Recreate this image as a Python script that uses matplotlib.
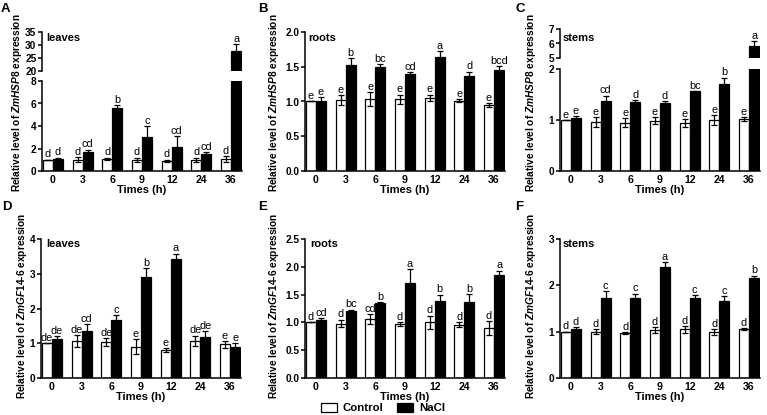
import matplotlib
matplotlib.use('Agg')
import matplotlib.pyplot as plt
import numpy as np

plt.rcParams['font.family'] = ['Liberation Sans', 'DejaVu Sans']
plt.rcParams['font.weight'] = 'bold'
plt.rcParams['mathtext.fontset'] = 'custom'
plt.rcParams['mathtext.it'] = 'Liberation Sans:italic:bold'
plt.rcParams['mathtext.rm'] = 'Liberation Sans:bold'

####################Data############################
times = ['0', '3', '6', '9', '12', '24', '36']

# A: ZmHSP8 leaves
a_ctrl = [1.0, 1.02, 1.1, 1.0, 0.9, 1.0, 1.05]
a_ctrl_err = [0.0, 0.2, 0.1, 0.2, 0.1, 0.2, 0.25]
a_nacl = [1.1, 1.7, 5.6, 3.05, 2.15, 1.55, 27.8]
a_nacl_err = [0.1, 0.2, 0.25, 0.95, 0.95, 0.1, 2.6]
a_ctrl_let = ['d', 'd', 'd', 'd', 'd', 'd', 'd']
a_nacl_let = ['d', 'cd', 'b', 'c', 'cd', 'cd', 'a']

# B: ZmHSP8 roots
b_ctrl = [1.0, 1.02, 1.03, 1.03, 1.05, 1.01, 0.95]
b_ctrl_err = [0.0, 0.07, 0.1, 0.07, 0.05, 0.02, 0.03]
b_nacl = [1.0, 1.53, 1.49, 1.40, 1.64, 1.37, 1.45]
b_nacl_err = [0.06, 0.09, 0.05, 0.02, 0.08, 0.06, 0.06]
b_ctrl_let = ['e', 'e', 'e', 'e', 'e', 'e', 'e']
b_nacl_let = ['e', 'b', 'bc', 'cd', 'a', 'd', 'bcd']

# C: ZmHSP8 stems
c_ctrl = [1.0, 0.96, 0.95, 0.99, 0.94, 1.0, 1.02]
c_ctrl_err = [0.0, 0.1, 0.08, 0.07, 0.08, 0.1, 0.03]
c_nacl = [1.03, 1.38, 1.35, 1.33, 1.56, 1.71, 5.85]
c_nacl_err = [0.05, 0.1, 0.04, 0.04, 0.01, 0.12, 0.3]
c_ctrl_let = ['e', 'e', 'e', 'e', 'e', 'e', 'e']
c_nacl_let = ['e', 'cd', 'd', 'd', 'bc', 'b', 'a']

# D: ZmGF14-6 leaves
d_ctrl = [1.0, 1.07, 1.03, 0.9, 0.8, 1.07, 0.97]
d_ctrl_err = [0.0, 0.17, 0.12, 0.22, 0.06, 0.15, 0.1]
d_nacl = [1.12, 1.36, 1.68, 2.9, 3.43, 1.18, 0.88]
d_nacl_err = [0.09, 0.18, 0.12, 0.26, 0.15, 0.17, 0.12]
d_ctrl_let = ['de', 'de', 'de', 'e', 'e', 'de', 'e']
d_nacl_let = ['de', 'cd', 'c', 'b', 'a', 'de', 'e']

# E: ZmGF14-6 roots
e_ctrl = [1.0, 0.98, 1.06, 0.97, 1.0, 0.96, 0.9]
e_ctrl_err = [0.0, 0.07, 0.09, 0.04, 0.12, 0.04, 0.12]
e_nacl = [1.04, 1.2, 1.34, 1.71, 1.38, 1.36, 1.86]
e_nacl_err = [0.04, 0.03, 0.02, 0.25, 0.12, 0.15, 0.07]
e_ctrl_let = ['d', 'd', 'cd', 'd', 'd', 'd', 'd']
e_nacl_let = ['cd', 'bc', 'b', 'a', 'b', 'b', 'a']

# F: ZmGF14-6 stems
f_ctrl = [1.0, 1.0, 0.97, 1.04, 1.05, 0.99, 1.06]
f_ctrl_err = [0.0, 0.05, 0.02, 0.06, 0.07, 0.06, 0.02]
f_nacl = [1.05, 1.72, 1.73, 2.4, 1.73, 1.67, 2.15]
f_nacl_err = [0.04, 0.15, 0.09, 0.1, 0.06, 0.1, 0.06]
f_ctrl_let = ['d', 'd', 'd', 'd', 'd', 'd', 'd']
f_nacl_let = ['d', 'c', 'c', 'a', 'c', 'c', 'b']

##########################Plotting###########################
W, H = 767, 415
fig = plt.figure(figsize=(W/100, H/100), dpi=100)

w = 0.34
x = np.arange(len(times))
let_size = 7.8
tick_size = 7.3
lab_size = 7.3


def px(left, top, right, bottom):
    # pixel box -> figure fraction
    return [left/W, 1-bottom/H, (right-left)/W, (bottom-top)/H]


def draw(ax, ctrl, ctrl_err, nacl, nacl_err, ctrl_let, nacl_let):
    ekw = dict(ecolor='black', elinewidth=0.9, capsize=2.4, capthick=0.9)
    ax.bar(x - w/2, ctrl, w, color='white', edgecolor='black', linewidth=0.9,
           yerr=ctrl_err, error_kw=ekw, label='Control')
    ax.bar(x + w/2, nacl, w, color='black', edgecolor='black', linewidth=0.9,
           yerr=nacl_err, error_kw=ekw, label='NaCl')
    for xi, v, e, t in zip(x - w/2, ctrl, ctrl_err, ctrl_let):
        ax.annotate(t, (xi, v+e), xytext=(0, 0.2), textcoords='offset points',
                    ha='center', va='bottom', fontsize=let_size, fontweight='normal')
    for xi, v, e, t in zip(x + w/2, nacl, nacl_err, nacl_let):
        ax.annotate(t, (xi, v+e), xytext=(0, 0.2), textcoords='offset points',
                    ha='center', va='bottom', fontsize=let_size, fontweight='normal')
    ax.set_xlim(-0.37, 6.37)
    for s in ['top', 'right']:
        ax.spines[s].set_visible(False)
    for s in ['left', 'bottom']:
        ax.spines[s].set_linewidth(1.1)
    ax.tick_params(axis='y', direction='out', length=3, width=1.1, labelsize=tick_size, pad=1)
    ax.tick_params(axis='x', length=0, labelsize=tick_size+0.3, pad=3)


def lower(ax, ylim, yticks, yticklabels=None):
    ax.set_ylim(ylim)
    ax.set_yticks(yticks)
    if yticklabels is not None:
        ax.set_yticklabels(yticklabels)
    ax.set_xticks(x)
    ax.set_xticklabels(times)
    ax.set_xlabel('Times (h)', fontsize=8, fontweight='bold', labelpad=0.2)


def upper(ax, ylim, yticks):
    ax.set_ylim(ylim)
    ax.set_yticks(yticks)
    ax.spines['bottom'].set_visible(False)
    ax.set_xticks([])


right_w = 200

# Row 1
axA = fig.add_axes(px(42, 81, 42+right_w, 171))
axA_up = fig.add_axes(px(42, 32, 42+right_w, 71))
axB = fig.add_axes(px(305, 32, 305+right_w, 171))
axC = fig.add_axes(px(560, 69, 560+right_w, 171))
axC_up = fig.add_axes(px(560, 29, 560+right_w, 58))

for ax in [axA, axA_up]:
    draw(ax, a_ctrl, a_ctrl_err, a_nacl, a_nacl_err, a_ctrl_let, a_nacl_let)
lower(axA, (0, 8), [0, 2, 4, 6, 8])
upper(axA_up, (20, 35), [20, 25, 30, 35])

draw(axB, b_ctrl, b_ctrl_err, b_nacl, b_nacl_err, b_ctrl_let, b_nacl_let)
lower(axB, (0, 2), [0, 0.5, 1.0, 1.5, 2.0], ['0.0', '0.5', '1.0', '1.5', '2.0'])

for ax in [axC, axC_up]:
    draw(ax, c_ctrl, c_ctrl_err, c_nacl, c_nacl_err, c_ctrl_let, c_nacl_let)
lower(axC, (0, 2), [0, 1, 2])
upper(axC_up, (5, 7), [5, 6, 7])

# Row 2
axD = fig.add_axes(px(41, 239, 41+right_w, 378))
axE = fig.add_axes(px(305, 239, 305+right_w, 378))
axF = fig.add_axes(px(560, 239, 560+right_w, 378))

draw(axD, d_ctrl, d_ctrl_err, d_nacl, d_nacl_err, d_ctrl_let, d_nacl_let)
lower(axD, (0, 4), [0, 1, 2, 3, 4])
draw(axE, e_ctrl, e_ctrl_err, e_nacl, e_nacl_err, e_ctrl_let, e_nacl_let)
lower(axE, (0, 2.5), [0, 0.5, 1.0, 1.5, 2.0, 2.5], ['0.0', '0.5', '1.0', '1.5', '2.0', '2.5'])
draw(axF, f_ctrl, f_ctrl_err, f_nacl, f_nacl_err, f_ctrl_let, f_nacl_let)
lower(axF, (0, 3), [0, 1, 2, 3])

# y labels
hsp = r'Relative level of $\mathit{ZmHSP8}$ expression'
gf = r'Relative level of $\mathit{ZmGF14}$-$\mathit{6}$ expression'
for xp in [17, 274, 531]:
    fig.text(xp/W, 1-103/H, hsp, rotation=90, ha='center', va='center', fontsize=lab_size)
for xp in [22, 274, 531]:
    fig.text(xp/W, 1-306/H, gf, rotation=90, ha='center', va='center', fontsize=lab_size)

# tissue names
for xp, yp, t in [(46, 38, 'leaves'), (308, 38, 'roots'), (563, 38, 'stems'),
                  (46, 244, 'leaves'), (310, 244, 'roots'), (563, 244, 'stems')]:
    fig.text(xp/W, 1-yp/H, t, ha='left', va='center', fontsize=8)

# panel letters
for xp, yp, t in [(1, 9, 'A'), (258, 9, 'B'), (515, 9, 'C'),
                  (2, 207, 'D'), (258, 207, 'E'), (515, 207, 'F')]:
    fig.text(xp/W, 1-yp/H, t, ha='left', va='center', fontsize=9.5)

# legend
handles, labels = axE.get_legend_handles_labels()
fig.legend(handles, labels, loc='center', bbox_to_anchor=(383/W, 1-408/H), ncol=2,
           frameon=False, fontsize=8.2, handlelength=1.4, handleheight=0.9,
           columnspacing=1.2, handletextpad=0.5, borderpad=0)

fig.savefig('out.png', dpi=100)
